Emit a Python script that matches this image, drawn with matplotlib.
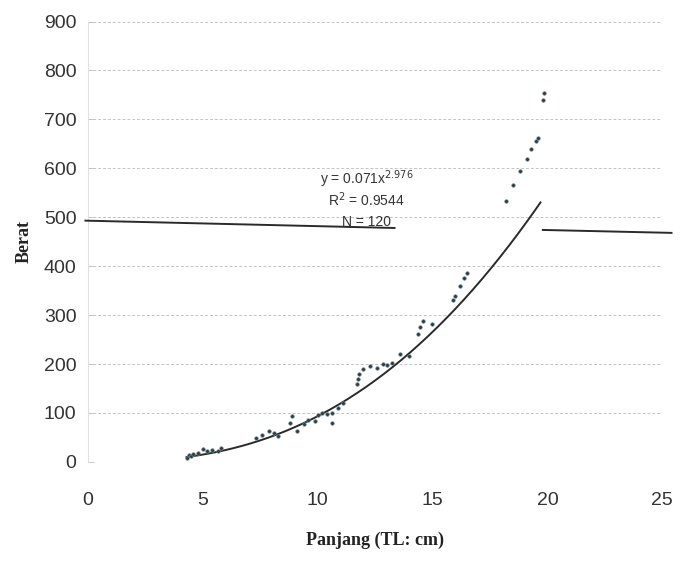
import numpy as np
import matplotlib
matplotlib.use('Agg')
import matplotlib.pyplot as plt

# data
panjang = [4.3, 4.4, 4.5, 4.6, 4.8, 5.0, 5.2, 5.4, 5.65, 5.8,
           7.3, 7.6, 7.9, 8.1, 8.26,
           8.8, 8.9, 9.1, 9.4, 9.6, 9.9, 10.0, 10.2, 10.4, 10.65, 10.65, 10.9, 11.1,
           11.7, 11.75, 11.8, 11.96, 12.3, 12.6, 12.83, 13.0, 13.26, 13.57, 14.0,
           14.35, 14.45, 14.57, 15.0,
           15.9, 16.0, 16.2, 16.35, 16.5,
           18.2, 18.5, 18.8, 19.1, 19.3, 19.5, 19.57, 19.8, 19.87]
berat = [8, 15, 12, 16, 18, 26, 22, 24, 22, 28,
         49, 55, 63, 58, 53,
         80, 94, 63, 78, 85, 84, 95, 100, 98, 100, 80, 110, 120,
         160, 170, 180, 190, 195, 192, 200, 198, 202, 220, 216,
         261, 275, 288, 282,
         330, 340, 360, 375, 386,
         533, 565, 595, 620, 640, 655, 661, 740, 753]

# points
trend_x = [4.3, 5.74, 8.26, 10.1, 12.26, 15.0, 17.17, 19.7]
trend_y = [9, 26, 53, 90, 151, 282, 384, 522]

x_ticks = [0, 5, 10, 15, 20, 25]
y_ticks = [0, 100, 200, 300, 400, 500, 600, 700, 800, 900]

# keterangan persamaan
eq_lines = ['y = 0.071x$^{2.976}$', 'R$^2$ = 0.9544', 'N = 120']

# stray ruled line of the scanned page
scan_line_left = ([-0.1, 13.35], [493, 478])
scan_line_right = ([19.8, 25.4], [474, 468])

tick_font = ['Liberation Sans Narrow', 'Liberation Sans', 'DejaVu Sans']
label_font = ['Liberation Serif', 'DejaVu Serif']

fig = plt.figure(figsize=(6.8, 5.66), dpi=100)
ax = fig.add_axes([0.129, 0.184, 0.845, 0.778])

ax.set_xlim(0, 25)
ax.set_ylim(0, 900)
ax.set_xticks(x_ticks)
ax.set_yticks(y_ticks)
ax.set_xticklabels([str(t) for t in x_ticks], family=tick_font, fontsize=14, color='#333333')
ax.set_yticklabels([str(t) for t in y_ticks], family=tick_font, fontsize=14, color='#333333')
ax.tick_params(axis='x', length=0, pad=22)
ax.tick_params(axis='y', length=4, width=0.6, color='#c0c0c0', pad=8, direction='in')

for s in ['top', 'right', 'bottom']:
    ax.spines[s].set_visible(False)
ax.spines['left'].set_color('#e0e0e0')
ax.spines['left'].set_linewidth(0.8)

ax.grid(axis='y', color='#c4c4c4', linestyle=(0, (3, 2)), linewidth=0.7)
ax.set_axisbelow(True)

# fitted trend curve
lx = np.log(trend_x)
ly = np.log(trend_y)
coef = np.polyfit(lx, ly, 2)
xs = np.linspace(trend_x[0], trend_x[-1], 200)
ys = np.exp(np.polyval(coef, np.log(xs)))
ax.plot(xs, ys, color='#2a2a2a', linewidth=1.4, zorder=3)

ax.scatter(panjang, berat, s=7, color='#3a3a3a', edgecolors='#6a9aaa',
           linewidths=0.4, zorder=4)

ax.plot(*scan_line_left, color='#2a2a2a', linewidth=1.4, clip_on=False, zorder=5)
ax.plot(*scan_line_right, color='#2a2a2a', linewidth=1.4, clip_on=False, zorder=5)

for txt, yy in zip(eq_lines, [0.641, 0.595, 0.545]):
    ax.text(0.485, yy, txt, transform=ax.transAxes, ha='center', va='center',
            fontsize=10, family=tick_font, color='#333333')

ax.set_xlabel('Panjang (TL: cm)', family=label_font, fontweight='bold',
              fontsize=13, color='#222222', labelpad=16)
ax.set_ylabel('Berat', family=label_font, fontweight='bold',
              fontsize=13, color='#222222', labelpad=8)

fig.savefig('out.png', dpi=100)
